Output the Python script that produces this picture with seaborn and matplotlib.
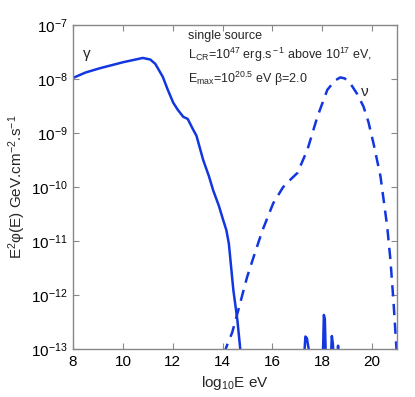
import numpy as np
import pandas as pd
import matplotlib
matplotlib.use("Agg")
import matplotlib.pyplot as plt
import seaborn as sns

# gamma-ray spectrum (log10 E, log10 E^2 phi)
gamma_logE = [8.0, 8.5, 9.08, 9.5, 10.0, 10.4, 10.8, 11.1, 11.3, 11.6, 11.8, 12.02,
              12.2, 12.42, 12.6, 12.82, 12.95, 13.22, 13.45, 13.62, 13.85, 14.02,
              14.15, 14.25, 14.43, 14.59, 14.75]
gamma_logF = [-7.98, -7.88, -7.80, -7.75, -7.69, -7.65, -7.61, -7.64, -7.72, -7.96,
              -8.2, -8.44, -8.57, -8.70, -8.74, -8.94, -9.05, -9.5, -9.8, -10.06,
              -10.35, -10.61, -10.8, -11.05, -11.91, -12.46, -13.2]

# small gamma-ray spikes near 10^18 eV
spike_logE = [17.26, 17.32, 17.38, 17.45, 17.5, 18.02, 18.06, 18.1, 18.14, 18.34,
              18.38, 18.42, 18.46, 18.6, 18.63, 18.66]
spike_logF = [-13.2, -12.77, -12.8, -13.0, -13.2, -13.2, -12.37, -12.45, -13.2, -13.2,
              -12.76, -12.9, -13.2, -13.2, -12.94, -13.2]

# neutrino spectrum
nu_logE = [14.05, 14.2, 14.38, 14.6, 14.98, 15.31, 15.6, 16.03, 16.43, 16.75, 17.0,
           17.4, 17.8, 18.2, 18.5, 18.72, 18.9, 19.12, 19.4, 19.65, 19.85, 20.05,
           20.33, 20.6, 20.73, 20.85, 21.0]
nu_logF = [-13.1, -12.9, -12.7, -12.33, -11.67, -11.2, -10.8, -10.3, -10.0, -9.85,
           -9.74, -9.31, -8.70, -8.2, -8.03, -7.97, -7.99, -8.08, -8.28, -8.51,
           -8.8, -9.19, -9.8, -10.73, -11.35, -12.1, -13.2]

annot_lines = ["single source",
               r"L$_{\rm CR}$=10$^{47}$ erg.s$^{\rm -1}$ above 10$^{17}$ eV,",
               "E$_{\\rm max}$=10$^{20.5}$ eV β=2.0"]

sns.set_style("ticks")
plt.rcParams['font.family'] = ['Liberation Sans', 'DejaVu Sans']
plt.rcParams['mathtext.fontset'] = 'custom'
plt.rcParams['mathtext.rm'] = 'Liberation Sans'
plt.rcParams['mathtext.it'] = 'Liberation Sans:italic'

blue = '#1236e0'

fig = plt.figure(figsize=(4.15, 3.97), dpi=100)
ax = fig.add_axes([0.176, 0.121, 0.781, 0.816])

dg = pd.DataFrame({'x': gamma_logE, 'y': 10 ** np.array(gamma_logF)})
ds = pd.DataFrame({'x': spike_logE, 'y': 10 ** np.array(spike_logF)})
dn = pd.DataFrame({'x': nu_logE, 'y': 10 ** np.array(nu_logF)})

sns.lineplot(data=dg, x='x', y='y', ax=ax, color=blue, lw=1.8, sort=False)
sns.lineplot(data=ds, x='x', y='y', ax=ax, color=blue, lw=1.8, sort=False)
sns.lineplot(data=dn, x='x', y='y', ax=ax, color=blue, lw=1.8, sort=False,
             dashes=False, linestyle=(0, (4.5, 3.0)))

ax.set_yscale('log')
ax.set_xlim(8, 21)
ax.set_ylim(1e-13, 1e-7)
ax.set_xticks([8, 10, 12, 14, 16, 18, 20])
ax.set_yticks([10.0 ** k for k in range(-13, -6)])
ax.set_yticklabels([r'10$^{%d}$' % k for k in range(-13, -6)])
ax.minorticks_off()
ax.tick_params(direction='in', top=True, right=True, length=4, width=0.8,
               color='#888888', labelsize=11, labelcolor='black', pad=4)
for s in ax.spines.values():
    s.set_color('#888888')
    s.set_linewidth(1.0)

ax.set_xlabel(r'log$_{10}$E eV', fontsize=11)
ax.set_ylabel('E$^{2}$φ(E) GeV.cm$^{-2}$.s$^{-1}$', fontsize=11, labelpad=2)

ax.text(8.4, 10 ** -7.62, 'γ', fontsize=11)
ax.text(19.55, 10 ** -8.32, 'ν', fontsize=11)
ys = [-7.2, -7.55, -7.99]
for t, yy in zip(annot_lines, ys):
    ax.text(12.6, 10 ** yy, t, fontsize=9, va='center')

fig.savefig('out.png', dpi=100)
